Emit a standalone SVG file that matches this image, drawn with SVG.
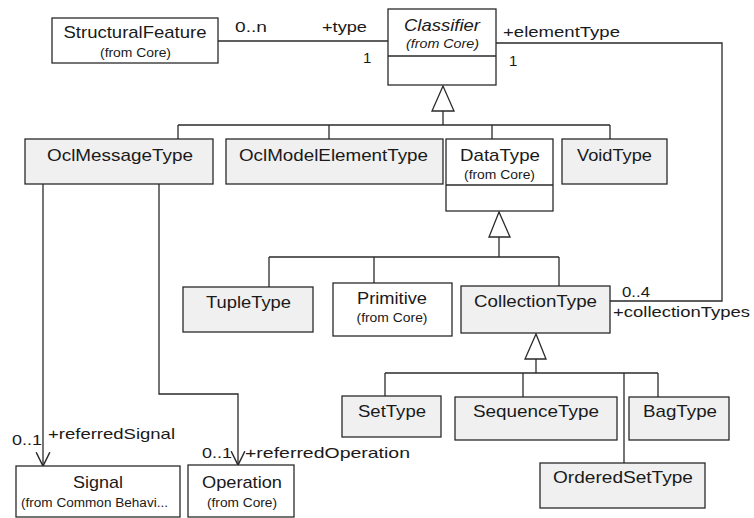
<svg xmlns="http://www.w3.org/2000/svg" width="754" height="518" viewBox="0 0 754 518">
<style>
.box{stroke:#2a2a2a;stroke-width:1.3}
.w{fill:#ffffff}
.g{fill:#f0f0f0}
.ln{fill:none;stroke:#2a2a2a;stroke-width:1.3}
.tri{fill:#ffffff;stroke:#2a2a2a;stroke-width:1.3}
text{font-family:"Liberation Sans",Arial,sans-serif;fill:#1a1a1a}
.n{font-size:17px;text-anchor:middle}
.s{font-size:12px;text-anchor:middle}
.l{font-size:15px}
.it{font-style:italic}
</style>
<defs>
<marker id="open" markerUnits="userSpaceOnUse" markerWidth="16" markerHeight="16" refX="12" refY="6" orient="auto" viewBox="0 0 14 12">
<path d="M0,0 L12,6 L0,12" fill="none" stroke="#2a2a2a" stroke-width="1.3"/>
</marker>
</defs>
<rect width="754" height="518" fill="#ffffff"/>
<g id="connectors">
<line class="ln" x1="218" y1="41" x2="388" y2="41"/>
<polyline class="ln" points="496,43 722,43 722,301 610,301"/>
<line class="ln" x1="443" y1="111" x2="443" y2="125"/>
<line class="ln" x1="178" y1="125" x2="610" y2="125"/>
<line class="ln" x1="178" y1="125" x2="178" y2="139"/>
<line class="ln" x1="329" y1="125" x2="329" y2="139"/>
<line class="ln" x1="492" y1="125" x2="492" y2="139"/>
<line class="ln" x1="610" y1="125" x2="610" y2="139"/>
<polygon class="tri" points="443,86 432,111 454,111"/>
<line class="ln" x1="499" y1="237" x2="499" y2="257"/>
<line class="ln" x1="269" y1="257" x2="559" y2="257"/>
<line class="ln" x1="269" y1="257" x2="269" y2="287"/>
<line class="ln" x1="374" y1="257" x2="374" y2="283"/>
<line class="ln" x1="559" y1="257" x2="559" y2="286"/>
<polygon class="tri" points="499,212 489,237 510,237"/>
<line class="ln" x1="536" y1="359" x2="536" y2="373"/>
<line class="ln" x1="385" y1="373" x2="658" y2="373"/>
<line class="ln" x1="385" y1="373" x2="385" y2="396"/>
<line class="ln" x1="523" y1="373" x2="523" y2="397"/>
<line class="ln" x1="624" y1="373" x2="624" y2="463"/>
<line class="ln" x1="658" y1="373" x2="658" y2="397"/>
<polygon class="tri" points="536,334 525,359 546,359"/>
<line class="ln" x1="43" y1="184" x2="43" y2="466" marker-end="url(#open)"/>
<polyline class="ln" points="159,184 159,394 238,394 238,465" marker-end="url(#open)"/>
<text class="l" x="235" y="32" textLength="32" lengthAdjust="spacingAndGlyphs">0..n</text>
<text class="l" x="322" y="32" textLength="45" lengthAdjust="spacingAndGlyphs">+type</text>
<text class="l" x="363" y="63">1</text>
<text class="l" x="503" y="37" textLength="117" lengthAdjust="spacingAndGlyphs">+elementType</text>
<text class="l" x="509" y="66">1</text>
<text class="l" x="622" y="297" textLength="28" lengthAdjust="spacingAndGlyphs">0..4</text>
<text class="l" x="613" y="317" textLength="137" lengthAdjust="spacingAndGlyphs">+collectionTypes</text>
<text class="l" x="12" y="445" textLength="30" lengthAdjust="spacingAndGlyphs">0..1</text>
<text class="l" x="48" y="439" textLength="127" lengthAdjust="spacingAndGlyphs">+referredSignal</text>
<text class="l" x="202" y="458" textLength="30" lengthAdjust="spacingAndGlyphs">0..1</text>
<text class="l" x="245" y="458" textLength="165" lengthAdjust="spacingAndGlyphs">+referredOperation</text>
</g>
<g id="StructuralFeature">
<rect class="box w" x="52" y="18" width="166" height="45"/>
<text class="n" x="135" y="38" textLength="143" lengthAdjust="spacingAndGlyphs">StructuralFeature</text>
<text class="s" x="135.5" y="57" textLength="71" lengthAdjust="spacingAndGlyphs">(from Core)</text>
</g>
<g id="Classifier">
<rect class="box w" x="388" y="9" width="108" height="76"/>
<line class="ln" x1="388" y1="56" x2="496" y2="56"/>
<text class="n it" x="442" y="31" textLength="76" lengthAdjust="spacingAndGlyphs">Classifier</text>
<text class="s it" x="442.5" y="48" textLength="73" lengthAdjust="spacingAndGlyphs">(from Core)</text>
</g>
<g id="OclMessageType">
<rect class="box g" x="25" y="139" width="188" height="45"/>
<text class="n" x="120" y="161" textLength="146" lengthAdjust="spacingAndGlyphs">OclMessageType</text>
</g>
<g id="OclModelElementType">
<rect class="box g" x="226" y="139" width="217" height="45"/>
<text class="n" x="333.5" y="161" textLength="189" lengthAdjust="spacingAndGlyphs">OclModelElementType</text>
</g>
<g id="DataType">
<rect class="box w" x="446" y="139" width="107" height="72"/>
<line class="ln" x1="446" y1="185" x2="553" y2="185"/>
<text class="n" x="500" y="161" textLength="80" lengthAdjust="spacingAndGlyphs">DataType</text>
<text class="s" x="499.5" y="179" textLength="71" lengthAdjust="spacingAndGlyphs">(from Core)</text>
</g>
<g id="VoidType">
<rect class="box g" x="562" y="139" width="105" height="45"/>
<text class="n" x="614.5" y="161" textLength="75" lengthAdjust="spacingAndGlyphs">VoidType</text>
</g>
<g id="TupleType">
<rect class="box g" x="183" y="287" width="130" height="45"/>
<text class="n" x="248.5" y="308" textLength="85" lengthAdjust="spacingAndGlyphs">TupleType</text>
</g>
<g id="Primitive">
<rect class="box w" x="333" y="283" width="119" height="53"/>
<text class="n" x="392" y="304" textLength="70" lengthAdjust="spacingAndGlyphs">Primitive</text>
<text class="s" x="392" y="322" textLength="71" lengthAdjust="spacingAndGlyphs">(from Core)</text>
</g>
<g id="CollectionType">
<rect class="box g" x="461" y="286" width="149" height="47"/>
<text class="n" x="535.5" y="307" textLength="123" lengthAdjust="spacingAndGlyphs">CollectionType</text>
</g>
<g id="SetType">
<rect class="box g" x="342" y="396" width="99" height="41"/>
<text class="n" x="392" y="417" textLength="68" lengthAdjust="spacingAndGlyphs">SetType</text>
</g>
<g id="SequenceType">
<rect class="box g" x="455" y="397" width="162" height="43"/>
<text class="n" x="536" y="417" textLength="126" lengthAdjust="spacingAndGlyphs">SequenceType</text>
</g>
<g id="BagType">
<rect class="box g" x="629" y="397" width="100" height="43"/>
<text class="n" x="680" y="417" textLength="74" lengthAdjust="spacingAndGlyphs">BagType</text>
</g>
<g id="OrderedSetType">
<rect class="box g" x="540" y="463" width="165" height="45"/>
<text class="n" x="623" y="483" textLength="140" lengthAdjust="spacingAndGlyphs">OrderedSetType</text>
</g>
<g id="Signal">
<rect class="box w" x="16" y="466" width="164" height="51"/>
<text class="n" x="98" y="488" textLength="50" lengthAdjust="spacingAndGlyphs">Signal</text>
<text class="s" x="94.5" y="507" textLength="147" lengthAdjust="spacingAndGlyphs">(from Common Behavi...</text>
</g>
<g id="Operation">
<rect class="box w" x="188" y="465" width="106" height="52"/>
<text class="n" x="242" y="488" textLength="80" lengthAdjust="spacingAndGlyphs">Operation</text>
<text class="s" x="242" y="507" textLength="70" lengthAdjust="spacingAndGlyphs">(from Core)</text>
</g>
</svg>
